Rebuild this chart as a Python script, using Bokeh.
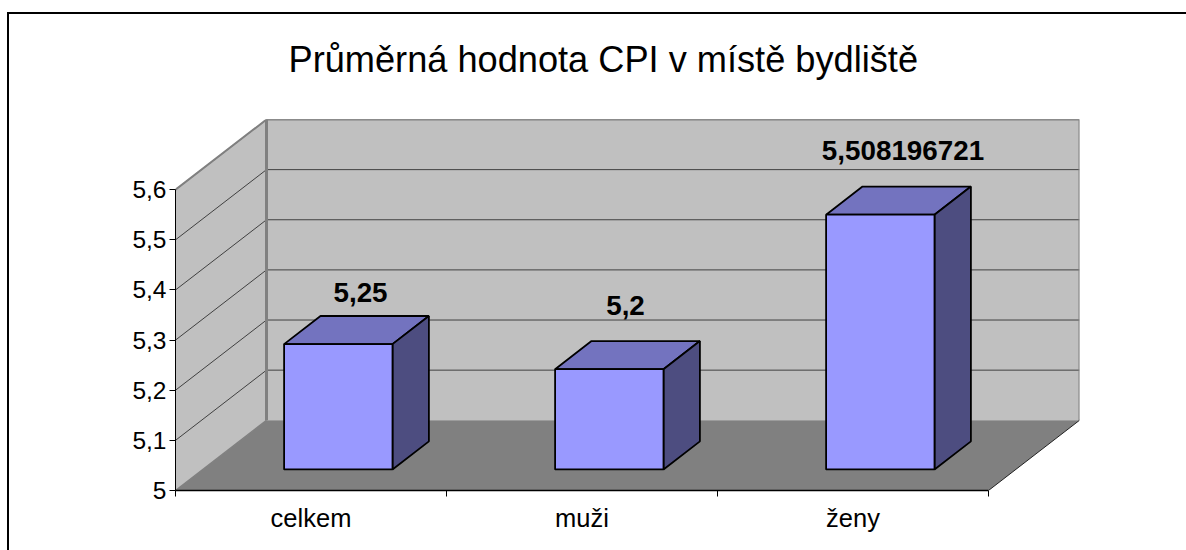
from bokeh.plotting import figure
from bokeh.models import Range1d, FixedTicker, Title
from bokeh.core.properties import value as fixed
from bokeh.embed import file_html
from bokeh.resources import INLINE

# ---- data
categories = ["celkem", "muži", "ženy"]
values = [5.25, 5.2, 5.508196721]
value_labels = ["5,25", "5,2", "5,508196721"]
y_ticks = [5, 5.1, 5.2, 5.3, 5.4, 5.5, 5.6]
y_tick_labels = ["5", "5,1", "5,2", "5,3", "5,4", "5,5", "5,6"]
title_text = "Průměrná hodnota CPI v místě bydliště"

# ---- layout and style
FONT = "Liberation Sans"
Y_MIN, Y_MAX = y_ticks[0], y_ticks[-1]
N = len(categories)
# oblique projection: shift (in data units) for full chart depth
DX = 91 / 271
DY = 70.5 / (302 / (Y_MAX - Y_MIN))
BAR_W = 0.4
BAR_D0, BAR_D1 = 0.3, 0.7
label_dx = [4, -2, 4.5]    # px
label_dy = [-24, -36, -36]  # px, relative to the bar's back top edge


def px(c, d=0.0):
    return c + d * DX


def py(v, d=0.0):
    return v + d * DY


# The outer chart border runs off the page at right and bottom; it is painted
# behind a transparent canvas so that it does not disturb the layout.
border_css = ("linear-gradient(#000,#000) 7px 15px/1186px 2px no-repeat,"
              "linear-gradient(#000,#000) 7px 15px/2px 560px no-repeat,#fff")

p = figure(width=1186, height=553, output_backend="svg", toolbar_location=None,
           x_range=Range1d(0, N + DX), y_range=Range1d(Y_MIN, Y_MAX + DY),
           min_border_left=175, min_border_right=107, min_border_top=122,
           min_border_bottom=60, background_fill_color="white",
           border_fill_color=None, outline_line_color=None,
           margin=(-3, 0, 0, 0), styles={"background": border_css})
p.grid.visible = False

# title
p.title = Title(text=title_text, text_font=FONT, text_font_size="36.2px",
                text_font_style="normal", text_color="black", align="left",
                offset=113, standoff=79)

# walls and floor
WALL = "#C0C0C0"
EDGE = "#808080"
GRID = "#404040"
p.patch([px(0, 1), px(N, 1), px(N, 1), px(0, 1)],
        [py(Y_MIN, 1), py(Y_MIN, 1), py(Y_MAX, 1), py(Y_MAX, 1)],
        fill_color=WALL, line_color=None)
p.patch([px(0), px(0, 1), px(0, 1), px(0)],
        [py(Y_MIN), py(Y_MIN, 1), py(Y_MAX, 1), py(Y_MAX)],
        fill_color=WALL, line_color=None)
p.patch([px(0), px(N), px(N, 1), px(0, 1)],
        [py(Y_MIN), py(Y_MIN), py(Y_MIN, 1), py(Y_MIN, 1)],
        fill_color=EDGE, line_color=None)

# gridlines
for t in y_ticks[1:]:
    p.line([px(0), px(0, 1), px(N, 1)], [py(t), py(t, 1), py(t, 1)],
           line_color=GRID, line_width=1)
# wall edges
p.line([px(0), px(0, 1), px(N, 1), px(N, 1)],
       [py(Y_MAX), py(Y_MAX, 1), py(Y_MAX, 1), py(Y_MIN, 1)],
       line_color=EDGE, line_width=2)
p.line([px(0, 1), px(0, 1)], [py(Y_MIN, 1), py(Y_MAX, 1)], line_color=EDGE, line_width=3)
p.line([px(0), px(0, 1)], [py(Y_MIN), py(Y_MIN, 1)], line_color=EDGE, line_width=1.5)
p.line([px(N), px(N, 1)], [py(Y_MIN), py(Y_MIN, 1)], line_color="#222222", line_width=1)

# bars
for i, v in enumerate(values):
    c0 = i + (1 - BAR_W) / 2
    c1 = c0 + BAR_W
    # top face
    p.patch([px(c0, BAR_D0), px(c1, BAR_D0), px(c1, BAR_D1), px(c0, BAR_D1)],
            [py(v, BAR_D0), py(v, BAR_D0), py(v, BAR_D1), py(v, BAR_D1)],
            fill_color="#7373BF", line_color="black", line_width=1.8)
    # side face
    p.patch([px(c1, BAR_D0), px(c1, BAR_D1), px(c1, BAR_D1), px(c1, BAR_D0)],
            [py(Y_MIN, BAR_D0), py(Y_MIN, BAR_D1), py(v, BAR_D1), py(v, BAR_D0)],
            fill_color="#4D4D80", line_color="black", line_width=1.8)
    # front face
    p.patch([px(c0, BAR_D0), px(c1, BAR_D0), px(c1, BAR_D0), px(c0, BAR_D0)],
            [py(Y_MIN, BAR_D0), py(Y_MIN, BAR_D0), py(v, BAR_D0), py(v, BAR_D0)],
            fill_color="#9999FF", line_color="black", line_width=1.8)
    # value label
    p.text([px(i + 0.5, 0.5)], [py(v, BAR_D1)], text=[value_labels[i]],
           text_font=fixed(FONT), text_font_size="27.8px", text_font_style="bold",
           text_color="black", text_align="center", text_baseline="alphabetic",
           x_offset=label_dx[i], y_offset=label_dy[i])

# axes
ya = p.yaxis[0]
ya.bounds = (Y_MIN, Y_MAX)
ya.ticker = FixedTicker(ticks=y_ticks)
ya.major_label_overrides = dict(zip(y_ticks, y_tick_labels))
ya.major_tick_out, ya.major_tick_in = 6, 0
ya.minor_tick_out, ya.minor_tick_in = 0, 0
ya.major_label_text_font = FONT
ya.major_label_text_font_size = "24.5px"
ya.major_label_text_color = "black"
ya.major_label_standoff = 3
ya.axis_line_color = "black"
ya.major_tick_line_color = "black"

xa = p.xaxis[0]
xa.bounds = (0, N)
centers = [i + 0.5 for i in range(N)]
xa.ticker = FixedTicker(ticks=centers, minor_ticks=list(range(N + 1)))
xa.major_label_overrides = dict(zip(centers, categories))
xa.major_tick_out, xa.major_tick_in = 0, 0
xa.minor_tick_out, xa.minor_tick_in = 6, 0
xa.major_label_text_font = FONT
xa.major_label_text_font_size = "25.5px"
xa.major_label_text_color = "black"
xa.major_label_standoff = 7
xa.axis_line_color = "black"
xa.axis_line_width = 1.5
xa.minor_tick_line_color = "black"

open("out.html", "w").write(file_html(p, INLINE))
